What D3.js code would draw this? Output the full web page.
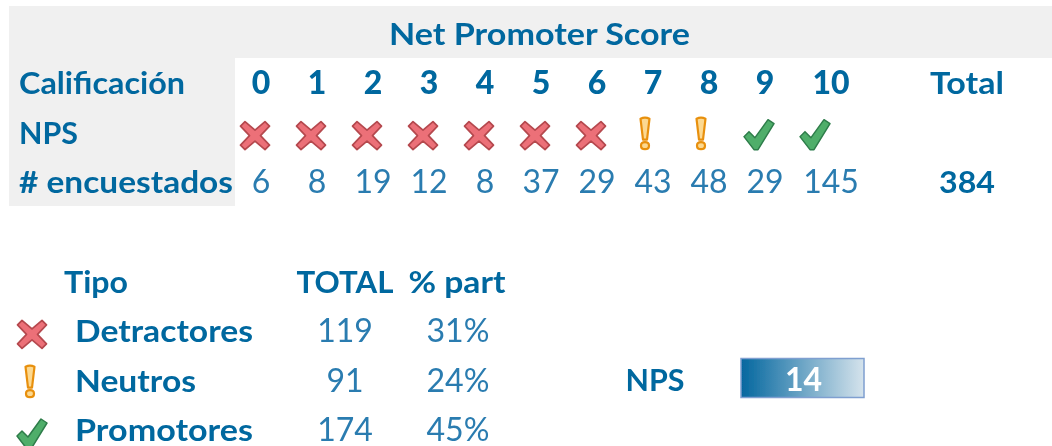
<!DOCTYPE html>
<html><head><meta charset="utf-8">
<script src="https://cdn.jsdelivr.net/npm/d3@7"></script>
<style>
html,body{margin:0;padding:0;background:#fff}
svg{display:block}
text{font-family:Lato,"Open Sans",sans-serif;fill:#04679f;font-size:31px;font-weight:700;dominant-baseline:alphabetic}
text.score{font-size:32px;font-weight:900}
text.val{font-size:32px;font-weight:400;fill:#2a7cb0}
</style></head><body>
<svg width="1052" height="446"><defs>
<filter id="soft" x="-5%" y="-5%" width="110%" height="110%"><feGaussianBlur stdDeviation="0.55"/></filter>
<linearGradient id="grad"><stop offset="0" stop-color="#04679f"/><stop offset="1" stop-color="#d5e3ec"/></linearGradient>
</defs><g id="root" filter="url(#soft)"></g></svg>
<script>
const title = "Net Promoter Score";
const rowLabels = ["Calificación", "NPS", "# encuestados"];
const scores = ["0","1","2","3","4","5","6","7","8","9","10"];
const scoreKinds = ["x","x","x","x","x","x","x","n","n","c","c"];
const respondents = [6,8,19,12,8,37,29,43,48,29,145];
const totalLabel = "Total";
const totalValue = 384;
const typeHeaders = ["Tipo","TOTAL","% part"];
const typeNames = ["Detractores","Neutros","Promotores"];
const typeKinds = ["x","n","c"];
const typeTotals = [119,91,174];
const typeShares = ["31%","24%","45%"];
const npsLabel = "NPS";
const npsValue = 14;

const svg = d3.select("#root");
const x = d3.scaleLinear().domain([0,9]).range([261,765]);
const labelX = i => i===10 ? 831 : x(i);
const iconX = (k,i) => x(i)-(k==="n"?8:6);
const yTop = d3.scalePoint().domain(["title",...rowLabels]).range([34,182]);
const yLow = d3.scalePoint().domain(["head",...typeNames]).range([282,430]);
const base = 11;

svg.append("rect").attr("x",9).attr("y",6).attr("width",1043).attr("height",52).attr("fill","#f0f0f0");
svg.append("rect").attr("x",9).attr("y",58).attr("width",226).attr("height",148).attr("fill","#f0f0f0");

function txt(s,px,py,anchor,cls,w){
  const t=svg.append("text").attr("x",px).attr("y",py+base).attr("text-anchor",anchor||"start").text(s);
  if(cls) t.attr("class",cls);
  if(w) t.attr("textLength",w).attr("lengthAdjust","spacingAndGlyphs");
  return t;
}
const X="M-10,-14 L-14.5,-9.5 L-5.5,0 L-14.5,9.5 L-10,14 L0,5.5 L10,14 L14.5,9.5 L5.5,0 L14.5,-9.5 L10,-14 L0,-5.5 Z";
const N="M-4.5,-15 Q0,-17 4.5,-15 L2,6 L-2,6 Z M-4,12 Q-4,8.5 0,8.5 Q4,8.5 4,12 Q4,15.5 0,15.5 Q-4,15.5 -4,12 Z";
const C="M-15,2 L-10,-3 L-4,3 L9,-15 L15,-11 L-1,15 L-5,15 Z";
const icon={
 x:{d:X,fill:"#ec7078",stroke:"#b5484e",w:1.7},
 n:{d:N,fill:"#fcd991",stroke:"#e8900f",w:2.2},
 c:{d:C,fill:"#4fae6b",stroke:"#2e7d4a",w:1.5}
};
function drawIcon(sel){ sel.attr("d",d=>icon[d.k].d).attr("fill",d=>icon[d.k].fill).attr("stroke",d=>icon[d.k].stroke).attr("stroke-width",d=>icon[d.k].w).attr("stroke-linejoin","round")
  .attr("transform",d=>`translate(${d.x},${d.y})`); }

txt(title,539.5,yTop("title"),"middle",null,301);
const rowW=[166,59,214];
rowLabels.forEach((l,i)=>txt(l,19,yTop(l),"start",null,rowW[i]));

svg.selectAll("text.score").data(scores).join("text").attr("class","score")
  .attr("x",(d,i)=>labelX(i)).attr("y",yTop(rowLabels[0])+base).attr("text-anchor","middle").text(d=>d);
svg.selectAll("path.top").data(scoreKinds.map((k,i)=>({k,x:iconX(k,i),y:yTop(rowLabels[1])+(k==="n"?1:k==="c"?2:3)}))).join("path").attr("class","top").call(drawIcon);
svg.selectAll("text.val.resp").data(respondents).join("text").attr("class","val resp")
  .attr("x",(d,i)=>labelX(i)).attr("y",yTop(rowLabels[2])+base).attr("text-anchor","middle").text(d=>d);
txt(totalLabel,967,yTop(rowLabels[0]),"middle",null,74);
txt(totalValue,967,yTop(rowLabels[2]),"middle",null,56);

txt(typeHeaders[0],64,yLow("head"),"start",null,64);
txt(typeHeaders[1],345,yLow("head"),"middle",null,97);
txt(typeHeaders[2],457,yLow("head"),"middle",null,97);
const nameW=[178,121,178];
typeNames.forEach((n,i)=>{
  txt(n,75,yLow(n),"start",null,nameW[i]);
  txt(typeTotals[i],345,yLow(n),"middle","val");
  txt(typeShares[i],458,yLow(n),"middle","val",63);
});
svg.selectAll("path.low").data(typeKinds.map((k,i)=>({k,x:i==1?30:32,y:yLow(typeNames[i])+(i==2?4:i==1?1:3)}))).join("path").attr("class","low").call(drawIcon);

txt(npsLabel,655,380,"middle",null,59);
svg.append("rect").attr("x",741).attr("y",358.5).attr("width",123).attr("height",39).attr("fill","url(#grad)").attr("stroke","#7f9fd0").attr("stroke-width",1.5);
svg.append("text").attr("x",803.5).attr("y",391).attr("text-anchor","middle").style("font-size","32px").style("fill","#fff").text(npsValue);
</script></body></html>
